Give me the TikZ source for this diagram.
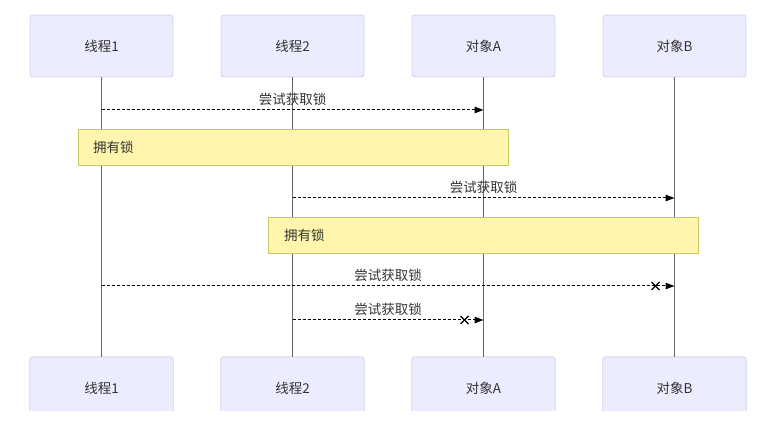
\documentclass[tikz,border=0pt]{standalone}
\usepackage{fontspec}
\setmainfont{Noto Sans CJK SC}
\usetikzlibrary{arrows.meta,calc}
\definecolor{actfill}{HTML}{ECECFF}
\definecolor{actline}{HTML}{D6CCF2}
\definecolor{notefill}{HTML}{FFF5AD}
\definecolor{noteline}{HTML}{C8C860}
\definecolor{txt}{HTML}{333333}
\definecolor{life}{HTML}{666666}
\tikzset{
  actor/.style={draw=actline, fill=actfill, line width=0.8pt, rounded corners=3pt,
    minimum width=143pt, minimum height=62pt, inner sep=0pt, text=txt,
    font=\fontsize{13.5pt}{15pt}\selectfont},
  actorb/.style={fill=actfill, draw=none, rounded corners=3pt,
    minimum width=143pt, minimum height=62pt, inner sep=0pt, text=txt,
    font=\fontsize{13.5pt}{15pt}\selectfont},
  lifeline/.style={draw=life, line width=1.6pt},
  msg/.style={draw=black, line width=1pt, dash pattern=on 3pt off 2pt,
    -{Triangle[length=9pt,width=6.5pt]}},
  notebox/.style={draw=noteline, fill=notefill, line width=0.8pt,
    minimum width=430pt, minimum height=36pt, inner sep=0pt},
  lbl/.style={text=txt, font=\fontsize{13.5pt}{15pt}\selectfont, inner sep=0pt},
  crossmark/.style={draw=black, line width=1.1pt}
}
\begin{document}
\begin{tikzpicture}[x=1pt,y=-1pt]
\useasboundingbox (0,0) rectangle (765,427);
% top actors
\node[actor] (t1) at (101.5,46) {线程1};
\node[actor] (t2) at (292.5,46) {线程2};
\node[actor] (ta) at (483.5,46) {对象A};
\node[actor] (tb) at (674.5,46) {对象B};
% bottom actors (clipped)
\begin{scope}
\clip (0,0) rectangle (765,410);
\foreach \n/\x/\t in {b1/101.5/线程1, b2/292.5/线程2, ba/483.5/对象A, bb/674.5/对象B}{
  \node[actorb] (\n) at (\x,388) {\t};
  \draw[actline, line width=0.8pt, rounded corners=3pt]
    (\n.south west) -- (\n.north west) -- (\n.north east) -- (\n.south east);
}
\end{scope}
% lifelines
\draw[lifeline] (t1.south) -- (b1.north);
\draw[lifeline] (t2.south) -- (b2.north);
\draw[lifeline] (ta.south) -- (ba.north);
\draw[lifeline] (tb.south) -- (bb.north);
% message 1
\coordinate (m1a) at (t1.south |- 0,110);
\coordinate (m1b) at (ta.south |- 0,110);
\draw[msg] (m1a) -- (m1b);
\node[lbl] (l1) at ($(m1a)!0.5!(m1b)+(0,-11)$) {尝试获取锁};
% note 1
\node[notebox] (n1) at (293,147) {};
\node[lbl, anchor=west] (n1t) at (93,147) {拥有锁};
% message 2
\coordinate (m2a) at (t2.south |- 0,198);
\coordinate (m2b) at (tb.south |- 0,198);
\draw[msg] (m2a) -- (m2b);
\node[lbl] (l2) at ($(m2a)!0.5!(m2b)+(0,-11)$) {尝试获取锁};
% note 2
\node[notebox] (n2) at (483,235) {};
\node[lbl, anchor=west] (n2t) at (284,235) {拥有锁};
% message 3
\coordinate (m3a) at (t1.south |- 0,286);
\coordinate (m3b) at (tb.south |- 0,286);
\draw[msg] (m3a) -- (m3b);
\node[lbl] (l3) at ($(m3a)!0.5!(m3b)+(0,-11)$) {尝试获取锁};
\coordinate (x3) at ($(m3b)+(-19,0)$);
\draw[crossmark] ($(x3)+(-4,-4)$) -- ($(x3)+(4,4)$);
\draw[crossmark] ($(x3)+(-4,4)$) -- ($(x3)+(4,-4)$);
% message 4
\coordinate (m4a) at (t2.south |- 0,320);
\coordinate (m4b) at (ta.south |- 0,320);
\draw[msg] (m4a) -- (m4b);
\node[lbl] (l4) at ($(m4a)!0.5!(m4b)+(0,-11)$) {尝试获取锁};
\coordinate (x4) at ($(m4b)+(-19,0)$);
\draw[crossmark] ($(x4)+(-4,-4)$) -- ($(x4)+(4,4)$);
\draw[crossmark] ($(x4)+(-4,4)$) -- ($(x4)+(4,-4)$);
\end{tikzpicture}
\end{document}
